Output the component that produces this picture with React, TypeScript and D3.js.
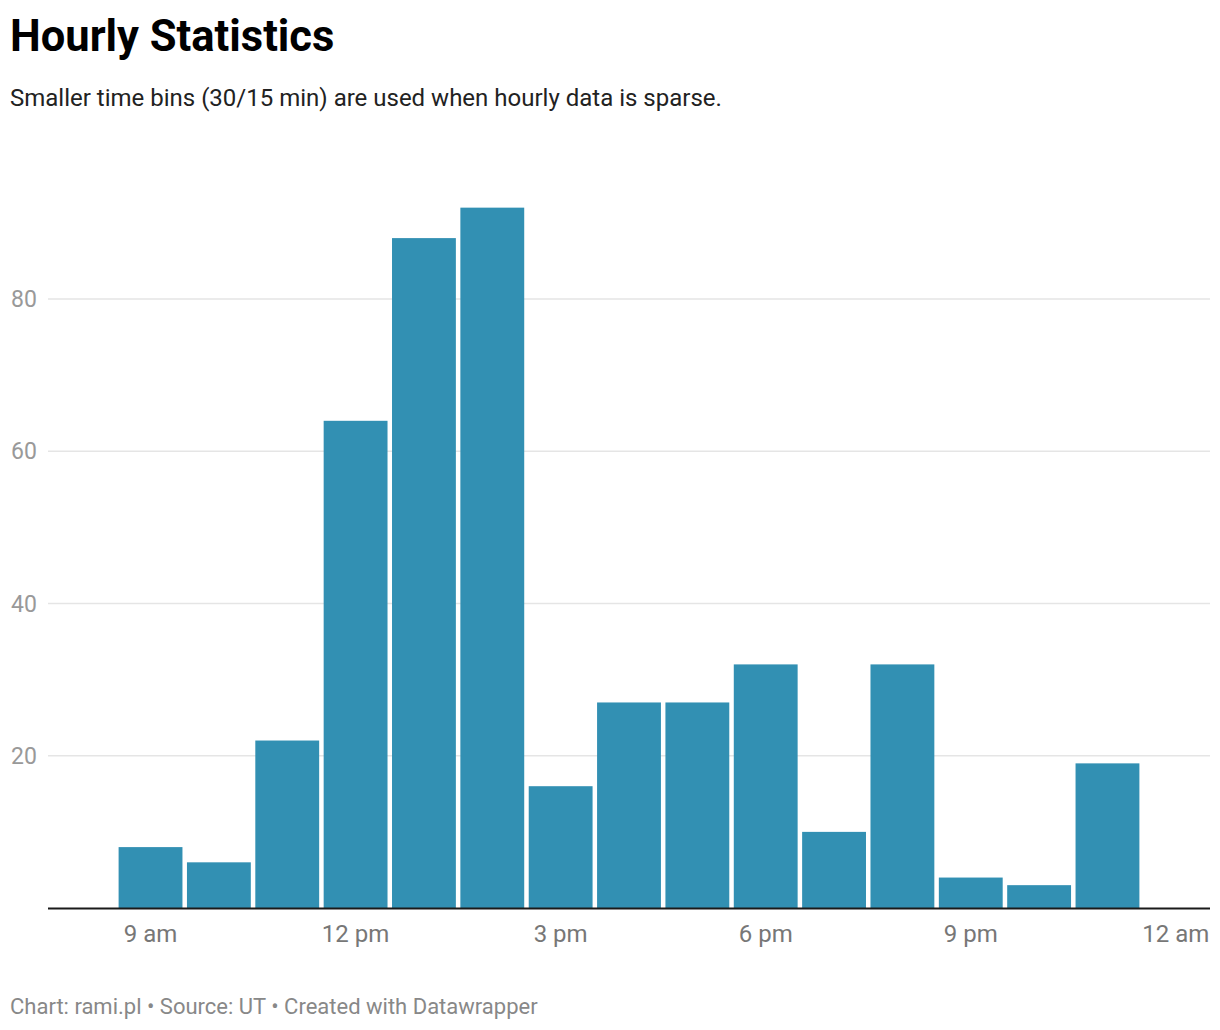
import { useEffect, useRef } from "react";
import * as d3 from "d3";

// hour of day (24h) each bar is centred on, and the count for that bin
const hours = [9, 10, 11, 12, 13, 14, 15, 16, 17, 18, 19, 20, 21, 22, 23];
const counts = [8, 6, 22, 64, 88, 92, 16, 27, 27, 32, 10, 32, 4, 3, 19];

const tickHours = [9, 12, 15, 18, 21, 24];
const tickLabels = ["9 am", "12 pm", "3 pm", "6 pm", "9 pm", "12 am"];
const yTicks = [20, 40, 60, 80];

const W = 1220;
const H = 1030;
const FONT = "Roboto, 'Noto Sans', sans-serif";

const day = (h: number) => new Date(2024, 0, 1, 0, h * 60);

const App: React.FC = () => {
    const svgRef = useRef<SVGSVGElement | null>(null);

    useEffect(() => {
        if (!svgRef.current) return;
        const svg = d3.select(svgRef.current);
        svg.selectAll("*").remove();

        const margin = { left: 48, right: 10, bottom: 908 };

        const x = d3.scaleTime()
            .domain([day(7.5), day(24.5)])
            .range([margin.left, W - margin.right]);
        const y = d3.scaleLinear().domain([0, 100]).range([margin.bottom, margin.bottom - 761.25]);

        const hourW = x(day(1)) - x(day(0));
        const barW = hourW - 4.5;

        // titles
        svg.append("text")
            .attr("x", 10).attr("y", 51)
            .style("font", `bold 43.5px ${FONT}`)
            .attr("fill", "#000")
            .text("Hourly Statistics");
        svg.append("text")
            .attr("x", 10).attr("y", 106)
            .style("font", `24px ${FONT}`)
            .attr("fill", "#222")
            .text("Smaller time bins (30/15 min) are used when hourly data is sparse.");

        // gridlines + y labels
        const grid = svg.append("g");
        grid.selectAll("line")
            .data(yTicks)
            .enter()
            .append("line")
            .attr("x1", margin.left)
            .attr("x2", W - margin.right)
            .attr("y1", d => y(d))
            .attr("y2", d => y(d))
            .attr("stroke", "#e5e5e5")
            .attr("stroke-width", 1.5);
        grid.selectAll("text")
            .data(yTicks)
            .enter()
            .append("text")
            .attr("x", 11)
            .attr("y", d => y(d))
            .attr("dy", "0.35em")
            .style("font", `23px ${FONT}`)
            .attr("fill", "#999")
            .text(d => d);

        // bars
        svg.append("g")
            .selectAll("rect")
            .data(hours.map((h, i) => ({ h, v: counts[i] })))
            .enter()
            .append("rect")
            .attr("x", d => x(day(d.h)) - barW / 2)
            .attr("y", d => y(d.v))
            .attr("width", barW)
            .attr("height", d => y(0) - y(d.v))
            .attr("fill", "#3290b3");

        // baseline
        svg.append("line")
            .attr("x1", margin.left)
            .attr("x2", W - margin.right)
            .attr("y1", y(0) + 0.5)
            .attr("y2", y(0) + 0.5)
            .attr("stroke", "#1a1a1a")
            .attr("stroke-width", 2);

        // x labels
        svg.append("g")
            .selectAll("text")
            .data(tickHours.map((h, i) => ({ h, label: tickLabels[i] })))
            .enter()
            .append("text")
            .attr("x", d => x(day(d.h)))
            .attr("y", 942)
            .attr("text-anchor", "middle")
            .style("font", `24px ${FONT}`)
            .attr("fill", "#777")
            .text(d => d.label);

        // footer
        svg.append("text")
            .attr("x", 10).attr("y", 1014)
            .style("font", `22px ${FONT}`)
            .attr("fill", "#888")
            .text("Chart: rami.pl • Source: UT • Created with Datawrapper");
    }, []);

    return (
        <div style={{ position: "absolute", left: 0, top: 0, background: "#fff" }}>
            <svg ref={svgRef} width={W} height={H} style={{ display: "block" }}></svg>
        </div>
    );
};

export default App;
